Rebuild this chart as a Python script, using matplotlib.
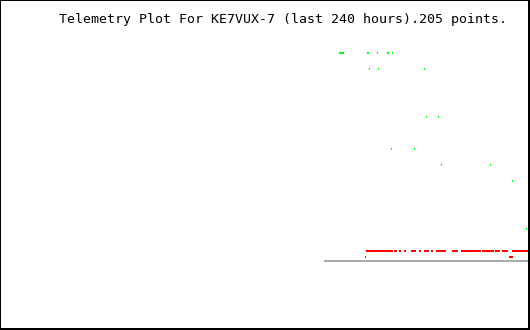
import matplotlib
matplotlib.use("Agg")
import matplotlib.pyplot as plt
from matplotlib.patches import Rectangle

# ---- data (hours relative to now, values in plot units) ----
title = "Telemetry Plot For KE7VUX-7 (last 240 hours).205 points."

green_hours = [-85.68, -85.23, -84.77, -84.32, -83.86, -72.95, -72.50, -68.41,
               -63.86, -63.41, -61.59,
               -72.05, -67.95, -47.05,
               -46.14, -40.68,
               -62.05, -51.59,
               -39.32, -17.05,
               -7.05,
               -0.68,
               -51.14, -34.32]
green_values = [208, 208, 208, 208, 208, 208, 208, 208, 208, 208, 208,
                192, 192, 192,
                144, 144,
                112, 112,
                96, 96,
                80,
                32,
                240, 240]

red_run_start = [-73.64, -60.91, -58.64, -56.36, -53.18, -51.82, -49.55, -47.27,
                 -46.36, -44.09, -41.82, -40.91, -39.55, -38.18, -34.55, -30.45,
                 -25.00, -24.09, -20.91, -20.00, -16.36, -15.00, -14.09, -11.82,
                 -7.27]
red_run_end = [-61.36, -59.55, -57.73, -55.45, -51.82, -50.91, -48.64, -46.36,
               -45.00, -43.18, -40.91, -39.55, -38.18, -37.27, -31.82, -25.00,
               -24.09, -21.36, -20.00, -16.36, -15.45, -14.09, -12.73, -9.09,
               0.00]
red_value = 10

red_low_start = [-74.09, -8.64]
red_low_end = [-73.64, -6.82]
red_low_value = 4

baseline_start = -92.73
baseline_end = 0.0
baseline_value = 0

# ---- figure ----
W, H, DPI = 530, 330, 100
fig = plt.figure(figsize=(W / DPI, H / DPI), dpi=DPI)
fig.patch.set_facecolor("white")
ax = fig.add_axes([0, 0, 1, 1])
ax.set_xlim(-240, 2 / 2.2)
ax.set_ylim(-69, 261)
ax.axis("off")

px_w = 1 / 2.2  # one pixel in hours

# baseline (grey)
ax.broken_barh([(baseline_start, baseline_end - baseline_start)],
               (baseline_value - 1, 2), facecolors="#aaaaaa",
               antialiased=False, zorder=2)

# red runs
ax.broken_barh([(s, e - s) for s, e in zip(red_run_start, red_run_end)],
               (red_value - 1, 2), facecolors="#ff0000",
               antialiased=False, zorder=3)
ax.broken_barh([(s, e - s) for s, e in zip(red_low_start, red_low_end)],
               (red_low_value - 1, 2), facecolors="#ff0000",
               antialiased=False, zorder=3)

# green points
ax.bar(green_hours, [2] * len(green_hours), width=px_w,
       bottom=[v - 1 for v in green_values], color="#00ff00",
       antialiased=False, linewidth=0, zorder=4)

# title
fig.text(59 / W, 1 - 22.5 / H, title, family="DejaVu Sans Mono",
         fontsize=9.5, color="black", ha="left", va="baseline", zorder=1)

# border
for (x, y, w, h) in [(0, 0, 1, H), (0, H - 1, W, 1), (W - 2, 0, 2, H), (0, 0, W, 2)]:
    fig.add_artist(Rectangle((x, y), w, h, transform=None, facecolor="black",
                             edgecolor="none", antialiased=False))

fig.savefig("out.png", dpi=DPI, facecolor="white")
